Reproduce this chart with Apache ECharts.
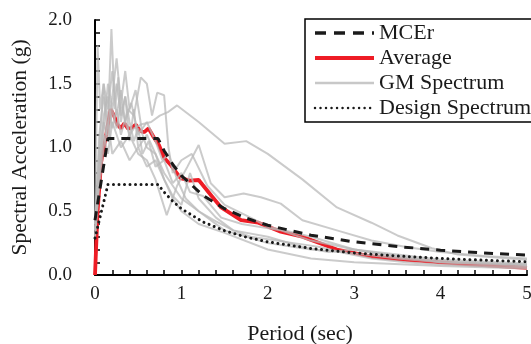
<!DOCTYPE html>
<html>
<head>
<meta charset="utf-8">
<script src="https://cdn.jsdelivr.net/npm/echarts@6/dist/echarts.min.js"></script>
<style>
  html, body { margin: 0; padding: 0; background: #fff; }
  #chart { width: 531px; height: 344px; }
</style>
</head>
<body>
<div id="chart"></div>
<script>
// period (sec), spectral acceleration (g) pairs
const mcer = [[0,0.43],[0.15,1.07],[0.73,1.07],[0.8,0.975],[0.9,0.867],[1,0.78],[1.25,0.624],[1.5,0.52],[1.75,0.446],[2,0.39],[2.5,0.312],[3,0.26],[3.5,0.223],[4,0.195],[4.5,0.173],[5,0.156]]
const design = [[0,0.29],[0.15,0.71],[0.73,0.71],[0.8,0.65],[0.9,0.578],[1,0.52],[1.25,0.416],[1.5,0.347],[1.75,0.297],[2,0.26],[2.5,0.208],[3,0.173],[3.5,0.149],[4,0.13],[4.5,0.116],[5,0.104]]
const average = [[0,0],[0.03,0.5],[0.07,0.88],[0.1,1.0],[0.13,1.1],[0.18,1.3],[0.22,1.25],[0.26,1.18],[0.3,1.15],[0.34,1.19],[0.38,1.15],[0.42,1.15],[0.47,1.18],[0.52,1.13],[0.57,1.12],[0.62,1.15],[0.68,1.08],[0.74,1.02],[0.8,0.92],[0.88,0.86],[0.99,0.76],[1.1,0.74],[1.2,0.745],[1.35,0.62],[1.46,0.53],[1.69,0.43],[1.89,0.41],[2.0,0.38],[2.15,0.34],[2.4,0.3],[2.8,0.2],[3.2,0.145],[3.5,0.125],[4.2,0.09],[5,0.057]]
const gm1 = [[0,0.4],[0.05,0.9],[0.1,1.2],[0.15,1.05],[0.2,1.3],[0.25,1.15],[0.3,1.35],[0.35,1.2],[0.4,1.1],[0.45,1.15],[0.53,1.18],[0.65,1.2],[0.75,1.25],[0.85,1.28],[0.95,1.33],[1.2,1.2],[1.5,1.03],[1.75,1.05],[2.0,0.95],[2.4,0.75],[2.8,0.53],[3.2,0.41],[3.5,0.31],[3.9,0.21],[4.2,0.16],[4.6,0.14],[5,0.12]]
const gm2 = [[0,0.4],[0.05,1.1],[0.1,1.4],[0.15,1.2],[0.19,1.93],[0.23,1.3],[0.27,1.55],[0.3,1.2],[0.35,1.4],[0.4,1.05],[0.45,1.3],[0.5,1.0],[0.6,1.1],[0.7,0.95],[0.8,0.75],[0.9,0.6],[1.0,0.5],[1.2,0.4],[1.5,0.33],[2.0,0.2],[2.5,0.13],[3,0.1],[4,0.07],[5,0.05]]
const gm3 = [[0,0.4],[0.03,1.8],[0.06,1.3],[0.1,1.5],[0.14,1.1],[0.2,1.4],[0.25,1.7],[0.3,1.35],[0.35,1.6],[0.4,1.3],[0.47,1.45],[0.55,1.1],[0.6,1.0],[0.7,0.95],[0.8,0.8],[0.9,0.7],[1.0,0.6],[1.2,0.5],[1.5,0.35],[2,0.25],[2.5,0.2],[3,0.17],[3.5,0.13],[4,0.1],[5,0.08]]
const gm4 = [[0,0.35],[0.05,0.9],[0.1,1.25],[0.15,1.4],[0.2,1.15],[0.25,1.3],[0.3,1.1],[0.38,1.3],[0.45,1.25],[0.53,1.55],[0.6,1.5],[0.66,1.25],[0.72,1.43],[0.8,1.41],[0.85,1.0],[0.9,0.8],[1.0,0.9],[1.12,0.95],[1.3,0.7],[1.5,0.55],[1.8,0.45],[2,0.38],[2.5,0.3],[3,0.2],[3.5,0.15],[4,0.1],[5,0.07]]
const gm5 = [[0,0.35],[0.05,0.8],[0.1,1.1],[0.15,0.95],[0.2,1.2],[0.3,1.0],[0.4,1.1],[0.5,0.95],[0.6,0.9],[0.7,0.75],[0.83,0.47],[0.95,0.7],[1.07,0.85],[1.2,1.02],[1.34,0.72],[1.5,0.61],[1.72,0.64],[1.92,0.61],[2.15,0.56],[2.4,0.43],[2.8,0.35],[3.2,0.27],[3.6,0.22],[4,0.18],[4.5,0.15],[5,0.13]]
const gm6 = [[0,0.3],[0.05,0.7],[0.1,1.0],[0.15,1.2],[0.2,0.95],[0.3,1.05],[0.4,0.9],[0.5,1.0],[0.6,0.85],[0.7,0.9],[0.8,0.75],[0.9,0.62],[1.0,0.55],[1.1,0.8],[1.2,0.6],[1.4,0.45],[1.6,0.35],[1.8,0.3],[2,0.28],[2.3,0.25],[2.6,0.22],[2.9,0.17],[3.2,0.13],[3.6,0.1],[4,0.08],[5,0.06]]
const gm7 = [[0,0.35],[0.05,1.0],[0.1,1.5],[0.15,1.3],[0.2,1.6],[0.25,1.25],[0.3,1.45],[0.35,1.2],[0.42,1.35],[0.5,1.1],[0.6,1.2],[0.7,1.05],[0.78,0.9],[0.85,0.95],[0.95,0.75],[1.05,0.6],[1.2,0.5],[1.4,0.42],[1.6,0.35],[2,0.3],[2.4,0.22],[2.7,0.18],[3,0.2],[3.5,0.16],[4,0.12],[5,0.09]]
const gm8 = [[0,0.3],[0.05,0.8],[0.1,1.15],[0.15,1.5],[0.2,1.3],[0.25,1.5],[0.3,1.25],[0.35,1.4],[0.4,1.2],[0.45,1.05],[0.5,1.15],[0.55,0.95],[0.62,1.05],[0.7,0.85],[0.8,0.9],[0.9,0.72],[1.0,0.8],[1.1,0.65],[1.25,0.62],[1.46,0.45],[1.7,0.4],[2.15,0.35],[2.5,0.27],[3,0.2],[3.5,0.14],[4,0.11],[5,0.08]]
const gmList = [gm1, gm2, gm3, gm4, gm5, gm6, gm7, gm8]

const font = 'Liberation Serif'
const chart = echarts.init(document.getElementById('chart'))

const gmSeries = gmList.map(d => ({
  name: 'GM Spectrum',
  type: 'line',
  data: d,
  symbol: 'none',
  z: 3,
  lineStyle: { color: 'rgba(185,185,185,0.75)', width: 2 },
  itemStyle: { color: 'rgb(200,200,200)' }
}))

const option = {
  animation: false,
  grid: { left: 95, right: 4, top: 20, bottom: 69, outerBoundsMode: 'none' },
  legend: {
    orient: 'vertical',
    left: 305,
    top: 19,
    data: [
      { name: 'MCEr', lineStyle: { width: 3.5, type: [11, 8] } },
      { name: 'Average', lineStyle: { width: 4 } },
      { name: 'GM Spectrum', lineStyle: { width: 2.5, color: 'rgb(200,200,200)' } },
      { name: 'Design Spectrum', lineStyle: { width: 2.5 } }
    ],
    itemWidth: 59,
    itemHeight: 14,
    itemGap: 3,
    padding: [3, 10, 3, 8],
    borderColor: '#000',
    borderWidth: 1.5,
    backgroundColor: '#fff',
    itemStyle: { opacity: 0 },
    textStyle: { fontFamily: font, fontSize: 22, color: '#1a1a1a', lineHeight: 21.5 }
  },
  xAxis: {
    type: 'value',
    min: 0, max: 5, interval: 1,
    name: 'Period (sec)',
    nameLocation: 'middle',
    nameGap: 48,
    nameTextStyle: { fontFamily: font, fontSize: 22, color: '#1a1a1a', padding: [0, 22, 0, 0] },
    axisLine: { lineStyle: { color: '#000', width: 2 } },
    axisTick: { inside: true, length: 5, lineStyle: { color: '#000', width: 1.5 } },
    minorTick: { show: true, splitNumber: 5, length: 5, lineStyle: { color: '#000', width: 1.5 } },
    axisLabel: { fontFamily: font, fontSize: 19, color: '#1a1a1a', margin: 10 },
    splitLine: { show: false }
  },
  yAxis: {
    type: 'value',
    min: 0, max: 2, interval: 0.5,
    name: 'Spectral Acceleration (g)',
    nameLocation: 'middle',
    nameGap: 64,
    nameTextStyle: { fontFamily: font, fontSize: 21.5, color: '#1a1a1a' },
    axisLine: { show: true, lineStyle: { color: '#000', width: 2 } },
    axisTick: { show: true, inside: true, length: 5, lineStyle: { color: '#000', width: 1.5 } },
    minorTick: { show: true, splitNumber: 5, length: 5, lineStyle: { color: '#000', width: 1.5 } },
    axisLabel: { fontFamily: font, fontSize: 19, color: '#1a1a1a', margin: 23, formatter: v => v.toFixed(1) },
    splitLine: { show: false }
  },
  series: [
    {
      name: 'Average', type: 'line', data: average, symbol: 'none', z: 2,
      lineStyle: { color: '#ee1c25', width: 3.8 }, itemStyle: { color: '#ee1c25' }
    },
    ...gmSeries,
    {
      name: 'MCEr', type: 'line', data: mcer, symbol: 'none', z: 4,
      lineStyle: { color: '#1a1a1a', width: 3, type: [9, 7] }, itemStyle: { color: '#1a1a1a' }
    },
    {
      name: 'Design Spectrum', type: 'line', data: design, symbol: 'none', z: 4,
      lineStyle: { color: '#1a1a1a', width: 3, type: [0.01, 5.5], cap: 'round' }, itemStyle: { color: '#1a1a1a' }
    }
  ]
}
chart.setOption(option)
</script>
</body>
</html>
